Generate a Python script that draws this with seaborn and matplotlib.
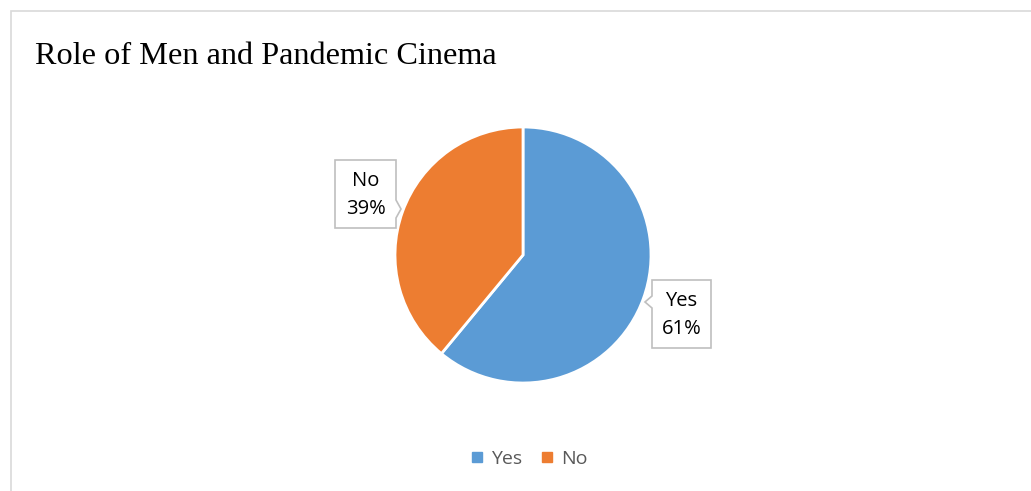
import matplotlib
matplotlib.use("Agg")
import matplotlib.pyplot as plt
import seaborn as sns
from matplotlib.patches import Polygon, Rectangle
from matplotlib.lines import Line2D

# ---- data ----
categories = ["Yes", "No"]
values = [61, 39]
title = "Role of Men and Pandemic Cinema"

sns.set_theme(style="white")
plt.rcParams['font.family'] = ['Open Sans', 'DejaVu Sans']

colors = sns.color_palette(["#5B9BD5", "#ED7D31"])

W, H = 1031, 491
fig = plt.figure(figsize=(W / 100, H / 100), dpi=100)
fig.patch.set_facecolor("white")

# outer chart frame (cut off at right/bottom as in the reference)
fig.patches.append(Rectangle((11 / W, -0.05), 1.1, 1 - 11 / H + 0.05,
                             transform=fig.transFigure, fill=False,
                             edgecolor="#D9D9D9", linewidth=1.2))

fig.text(35 / W, 1 - 57 / H, title, fontsize=23.2, family="Liberation Serif",
         ha="left", va="center", color="black")

cx, cy, r = 523, 255, 128
ax = fig.add_axes([(cx - r) / W, (H - cy - r) / H, 2 * r / W, 2 * r / H])
wedges, _ = ax.pie(values, colors=colors, startangle=90, counterclock=False,
                   radius=1, wedgeprops=dict(edgecolor="white", linewidth=2))
ax.set_xlim(-1, 1)
ax.set_ylim(-1, 1)
ax.set_aspect("equal")
ax.axis("off")

def px(x, y):
    return ((x - cx) / r, (cy - y) / r)

def callout(box, tip, base, text):
    x0, y0, x1, y1 = box
    if tip[0] > x1:
        pts = [(x0, y0), (x1, y0), (x1, base[0]), tip, (x1, base[1]), (x1, y1), (x0, y1)]
    else:
        pts = [(x0, y0), (x1, y0), (x1, y1), (x0, y1), (x0, base[1]), tip, (x0, base[0])]
    poly = Polygon([px(*p) for p in pts], closed=True, facecolor="white",
                   edgecolor="#BFBFBF", linewidth=1.2, clip_on=False, zorder=5)
    ax.add_patch(poly)
    tx, ty = px((x0 + x1) / 2, (y0 + y1) / 2 + 1)
    ax.text(tx, ty, text, ha="center", va="center", fontsize=14.5,
            color="black", linespacing=1.55, zorder=6, clip_on=False)

pcts = [f"{round(v / sum(values) * 100)}%" for v in values]
callout((652, 280, 711, 348), (645, 302), (296, 308), f"{categories[0]}\n{pcts[0]}")
callout((335, 160, 396, 228), (401, 209), (200, 218), f"{categories[1]}\n{pcts[1]}")

handles = [Line2D([], [], marker="s", linestyle="none", markersize=6.5,
                  markerfacecolor=c, markeredgecolor=c) for c in colors]
fig.legend(handles, categories, loc="center", bbox_to_anchor=(529 / W, 1 - 459 / H),
           ncol=2, frameon=False, fontsize=14, labelcolor="#595959",
           handlelength=0.7, handletextpad=0.4, columnspacing=0.9)

fig.savefig("out.png", dpi=100, facecolor="white")
